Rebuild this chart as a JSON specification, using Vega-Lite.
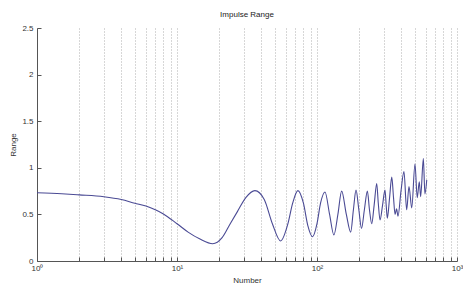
{
  "$schema": "https://vega.github.io/schema/vega-lite/v6.json",
  "width": 420,
  "height": 233,
  "autosize": {"type": "none"},
  "padding": {"left": 37, "top": 28, "right": 6, "bottom": 25},
  "background": "white",
  "config": {
    "view": {"stroke": null},
    "font": "Liberation Sans",
    "axis": {"labelFont": "Liberation Sans", "titleFont": "Liberation Sans", "labelFontSize": 8, "titleFontSize": 8, "titleFontWeight": "normal", "labelColor": "#333", "titleColor": "#333", "domainColor": "#555", "tickColor": "#555"}
  },
  "title": {"text": "Impulse Range", "fontSize": 8, "fontWeight": "normal", "font": "Liberation Sans", "color": "#222", "offset": 5},
  "data": {"values": [
    {"n": 1, "r": 0.733}, {"n": 1.5, "r": 0.722}, {"n": 2, "r": 0.71}, {"n": 3, "r": 0.69},
    {"n": 4, "r": 0.66}, {"n": 5, "r": 0.62}, {"n": 6, "r": 0.59}, {"n": 7, "r": 0.55},
    {"n": 8, "r": 0.505}, {"n": 10, "r": 0.40}, {"n": 12, "r": 0.31}, {"n": 14.6, "r": 0.235},
    {"n": 18, "r": 0.185}, {"n": 21, "r": 0.25}, {"n": 24, "r": 0.40}, {"n": 27, "r": 0.53},
    {"n": 31, "r": 0.68}, {"n": 36, "r": 0.755}, {"n": 42, "r": 0.66}, {"n": 48, "r": 0.40},
    {"n": 55, "r": 0.215}, {"n": 62, "r": 0.40}, {"n": 67, "r": 0.62}, {"n": 73, "r": 0.755},
    {"n": 80, "r": 0.62}, {"n": 86, "r": 0.38}, {"n": 93, "r": 0.26}, {"n": 100, "r": 0.40},
    {"n": 106, "r": 0.62}, {"n": 114, "r": 0.74}, {"n": 123, "r": 0.50}, {"n": 132, "r": 0.28},
    {"n": 141, "r": 0.50}, {"n": 150, "r": 0.75}, {"n": 162, "r": 0.50}, {"n": 174, "r": 0.31},
    {"n": 182, "r": 0.55}, {"n": 190, "r": 0.76}, {"n": 199, "r": 0.55}, {"n": 208, "r": 0.35},
    {"n": 218, "r": 0.55}, {"n": 229, "r": 0.75}, {"n": 237, "r": 0.55}, {"n": 246, "r": 0.40},
    {"n": 256, "r": 0.60}, {"n": 267, "r": 0.83}, {"n": 274, "r": 0.62}, {"n": 282, "r": 0.44},
    {"n": 294, "r": 0.60}, {"n": 306, "r": 0.76}, {"n": 312, "r": 0.60}, {"n": 318, "r": 0.46},
    {"n": 330, "r": 0.68}, {"n": 342, "r": 0.90}, {"n": 352, "r": 0.68}, {"n": 361, "r": 0.50},
    {"n": 370, "r": 0.56}, {"n": 379, "r": 0.48}, {"n": 398, "r": 0.75}, {"n": 418, "r": 0.96},
    {"n": 437, "r": 0.55}, {"n": 454, "r": 0.80}, {"n": 475, "r": 0.57}, {"n": 501, "r": 1.04},
    {"n": 520, "r": 0.68}, {"n": 538, "r": 0.85}, {"n": 550, "r": 0.69}, {"n": 575, "r": 1.10},
    {"n": 590, "r": 0.72}, {"n": 608, "r": 0.87}
  ]},
  "mark": {"type": "line", "color": "#4a4a94", "strokeWidth": 1.1, "interpolate": "monotone"},
  "encoding": {
    "x": {
      "field": "n", "type": "quantitative",
      "scale": {"type": "log", "domain": [1, 1000], "nice": false},
      "axis": {
        "title": "Number", "titleY": 15,
        "values": [1,2,3,4,5,6,7,8,9,10,20,30,40,50,60,70,80,90,100,200,300,400,500,600,700,800,900,1000],
        "labelExpr": "datum.value == 1 ? '10⁰' : datum.value == 10 ? '10¹' : datum.value == 100 ? '10²' : datum.value == 1000 ? '10³' : ''",
        "tickSize": -4, "labelPadding": 7, "labelFlush": false, "labelOverlap": false,
        "grid": true, "gridDash": [1, 2], "gridColor": "#999", "gridWidth": 0.8
      }
    },
    "y": {
      "field": "r", "type": "quantitative",
      "scale": {"domain": [0, 2.5], "nice": false},
      "axis": {
        "title": "Range", "titleX": -20,
        "values": [0, 0.5, 1, 1.5, 2, 2.5], "format": "~g",
        "tickSize": -4, "labelPadding": 8, "grid": false, "labelFlush": false
      }
    }
  }
}
